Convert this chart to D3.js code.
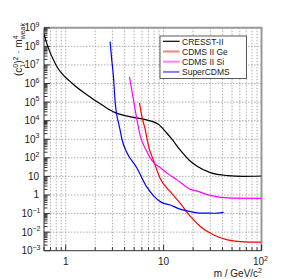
<!DOCTYPE html>
<html>
<head>
<meta charset="utf-8">
<script src="https://cdn.jsdelivr.net/npm/d3@7"></script>
<style>
  body { margin: 0; background: #fff; }
  svg { font-family: "Liberation Sans", Arial, sans-serif; }
</style>
</head>
<body>
<svg id="chart" width="291" height="279"></svg>
<script>
// series (mass in GeV/c^2, limit value)
var cresstMass = [0.6, 0.655, 0.795, 1.17, 1.7, 2.4, 3.2, 4.9, 6.2, 8.9, 10.8, 12, 14.8, 18.8, 22, 30, 45, 65, 100];
var cresstLimit = [4.5e8, 1e8, 1e7, 1e6, 2.2e5, 6.5e4, 2.7e4, 1.5e4, 1.2e4, 6.3e3, 2.1e3, 1.1e3, 2.6e2, 6.5e1, 3.5e1, 1.6e1, 1.1e1, 1.0e1, 1.05e1];

var geMass = [5.67, 6.0, 6.5, 7.0, 7.9, 9.2, 11.7, 14.8, 18.8, 23.7, 32.5, 45, 65, 100];
var geLimit = [9e4, 1.7e4, 3.2e3, 4.5e2, 7e1, 8e0, 1.5, 0.35, 0.07, 0.02, 7e-3, 3.8e-3, 3e-3, 2.9e-3];

var siMass = [4.48, 4.92, 5.33, 5.76, 6.74, 7.9, 9.2, 10.8, 13.7, 18.8, 22, 30, 48, 100];
var siLimit = [2.3e6, 1.3e5, 1.2e4, 1.6e3, 2.2e2, 5.5e1, 3e1, 1.5e1, 6.5, 2.0, 1.6, 0.95, 0.68, 0.66];

var superMass = [2.84, 2.95, 3.07, 3.2, 3.3, 3.45, 3.6, 3.75, 4.2, 5.3, 6.7, 7.9, 9.5, 11.7, 14, 17.3, 25, 33, 41];
var superLimit = [1.8e8, 2e7, 2.5e6, 1e5, 2.5e4, 8e3, 3e3, 1e3, 2e2, 3e1, 2.8, 0.9, 0.4, 0.29, 0.19, 0.14, 0.105, 0.104, 0.117];

var seriesNames = ["CRESST-II", "CDMS II Ge", "CDMS II Si", "SuperCDMS"];
var seriesColors = ["#000000", "#ff0000", "#ff00ff", "#0000ff"];

var xTicks = [1, 10, 100];
var yTicks = [1e9, 1e8, 1e7, 1e6, 1e5, 1e4, 1e3, 1e2, 10, 1, 0.1, 0.01, 0.001];

var xTitle = "m / GeV/c";

(function () {
  var svg = d3.select("#chart");
  var pLeft = 44, pRight = 261.5, pTop = 27.8, pBottom = 250.7;

  var x = d3.scaleLog().domain([0.6, 100]).range([pLeft, pRight]);
  var y = d3.scaleLog().domain([1e-3, 1e9]).range([pBottom, pTop]);

  // minor positions
  function minorValues(lo, hi) {
    var out = [];
    for (var e = Math.floor(Math.log10(lo)); e <= Math.ceil(Math.log10(hi)); e++) {
      for (var k = 1; k < 10; k++) {
        var v = k * Math.pow(10, e);
        if (v >= lo * 0.999 && v <= hi * 1.001) out.push(+v.toPrecision(3));
      }
    }
    return out;
  }
  var xMinor = minorValues(0.6, 100);
  var yMinor = minorValues(1e-3, 1e9);

  svg.append("clipPath").attr("id", "plotClip")
    .append("rect")
    .attr("x", pLeft).attr("y", pTop)
    .attr("width", pRight - pLeft).attr("height", pBottom - pTop);

  // grid
  var grid = svg.append("g").attr("stroke", "#9a9a9a").attr("stroke-width", 0.8)
    .attr("stroke-dasharray", "1.5,1.5");
  grid.selectAll("line.vx").data(xMinor.filter(function (d) { return d > 0.61 && d < 99; }))
    .enter().append("line")
    .attr("x1", function (d) { return x(d); }).attr("x2", function (d) { return x(d); })
    .attr("y1", pTop).attr("y2", pBottom);
  grid.selectAll("line.hy").data(yTicks.slice(1, -1))
    .enter().append("line")
    .attr("x1", pLeft).attr("x2", pRight)
    .attr("y1", function (d) { return y(d); }).attr("y2", function (d) { return y(d); });

  // top & right borders
  svg.append("line").attr("x1", pLeft).attr("x2", pRight + 1).attr("y1", pTop).attr("y2", pTop)
    .attr("stroke", "#999").attr("stroke-width", 2);
  svg.append("line").attr("x1", pRight).attr("x2", pRight).attr("y1", pTop).attr("y2", pBottom)
    .attr("stroke", "#999").attr("stroke-width", 2);

  // axes with inward ticks
  var axisG = svg.append("g").attr("stroke", "#333").attr("stroke-width", 1);
  axisG.append("line").attr("x1", pLeft).attr("x2", pRight).attr("y1", pBottom).attr("y2", pBottom);
  axisG.append("line").attr("x1", pLeft).attr("x2", pLeft).attr("y1", pTop).attr("y2", pBottom);

  axisG.selectAll("line.xt").data(xMinor).enter().append("line")
    .attr("x1", function (d) { return x(d); }).attr("x2", function (d) { return x(d); })
    .attr("y1", pBottom)
    .attr("y2", function (d) { return xTicks.indexOf(d) >= 0 ? pBottom - 6 : pBottom - 3.5; });
  axisG.selectAll("line.yt").data(yMinor).enter().append("line")
    .attr("y1", function (d) { return y(d); }).attr("y2", function (d) { return y(d); })
    .attr("x1", pLeft)
    .attr("x2", function (d) { return yTicks.indexOf(d) >= 0 ? pLeft + 6 : pLeft + 3.5; });

  // tick labels
  function expOf(v) { return Math.round(Math.log10(v)); }

  function labelText(sel, v) {
    var e = expOf(v);
    if (e === 0) { sel.append("tspan").text("1"); return; }
    if (e === 1) { sel.append("tspan").text("10"); return; }
    sel.append("tspan").text("10");
    sel.append("tspan").attr("font-size", 7).attr("dy", -4.5).text(e < 0 ? "\u2212" + (-e) : e);
  }

  svg.selectAll("text.yl").data(yTicks).enter().append("text")
    .attr("font-size", 10).attr("fill", "#222")
    .attr("text-anchor", "end")
    .attr("x", function (d) { var e = expOf(d); return e === 0 || e === 1 ? 39 : (e < 0 ? 40.5 : 39.5); })
    .attr("y", function (d) { return y(d) + 3.5; })
    .each(function (d) { labelText(d3.select(this), d); });

  svg.selectAll("text.xl").data(xTicks).enter().append("text")
    .attr("font-size", 10).attr("fill", "#222")
    .attr("text-anchor", "middle")
    .attr("x", function (d) { return expOf(d) === 2 ? x(d) - 1 : x(d); })
    .attr("y", 265)
    .each(function (d) { labelText(d3.select(this), d); });

  // axis titles
  var xt = svg.append("text").attr("font-size", 10).attr("fill", "#222")
    .attr("text-anchor", "end").attr("x", 262).attr("y", 277);
  xt.append("tspan").text(xTitle);
  xt.append("tspan").attr("font-size", 7).attr("dy", -4.5).text("2");

  var yt = svg.append("text").attr("font-size", 10).attr("fill", "#222")
    .attr("text-anchor", "end")
    .attr("transform", "translate(22,23) rotate(-90)");
  yt.append("tspan").text("(c");
  yt.append("tspan").attr("font-size", 7).attr("dy", -4.5).text("0");
  yt.append("tspan").attr("font-size", 7).attr("dx", -3.9).attr("dy", 7.5).text("1");
  yt.append("tspan").attr("dy", -3).text(")");
  yt.append("tspan").attr("font-size", 7).attr("dy", -4.5).text("2");
  yt.append("tspan").attr("dy", 4.5).text(" \u00b7 m");
  yt.append("tspan").attr("font-size", 7).attr("dy", -4.5).text("4");
  yt.append("tspan").attr("font-size", 7).attr("dx", -3.9).attr("dy", 7.5).text("weak");

  // curves
  var series = [
    { mass: cresstMass, limit: cresstLimit },
    { mass: geMass, limit: geLimit },
    { mass: siMass, limit: siLimit },
    { mass: superMass, limit: superLimit }
  ];

  var line = d3.line()
    .x(function (d) { return x(d[0]); })
    .y(function (d) { return y(d[1]); })
    .curve(d3.curveMonotoneX);

  svg.append("g").attr("clip-path", "url(#plotClip)")
    .selectAll("path").data(series).enter().append("path")
    .attr("fill", "none")
    .attr("stroke", function (d, i) { return seriesColors[i]; })
    .attr("stroke-width", 1.2)
    .attr("d", function (s) { return line(d3.zip(s.mass, s.limit)); });

  // legend
  var lg = svg.append("g");
  lg.append("rect").attr("x", 160).attr("y", 36).attr("width", 86.5).attr("height", 42.5)
    .attr("fill", "#fff").attr("stroke", "#333").attr("stroke-width", 0.8);
  var items = lg.selectAll("g.item").data(seriesNames).enter().append("g")
    .attr("transform", function (d, i) { return "translate(0," + (41.3 + i * 10.2) + ")"; });
  items.append("line").attr("x1", 163).attr("x2", 179.5).attr("y1", 0).attr("y2", 0)
    .attr("stroke", function (d, i) { return seriesColors[i]; })
    .attr("stroke-opacity", function (d, i) { return i === 0 ? 1 : 0.5; })
    .attr("stroke-width", function (d, i) { return i === 0 ? 1.2 : 2; });
  items.append("text").attr("x", 182).attr("y", 3.3).attr("font-size", 8.5).attr("fill", "#222")
    .text(function (d) { return d; });
})();
</script>
</body>
</html>
